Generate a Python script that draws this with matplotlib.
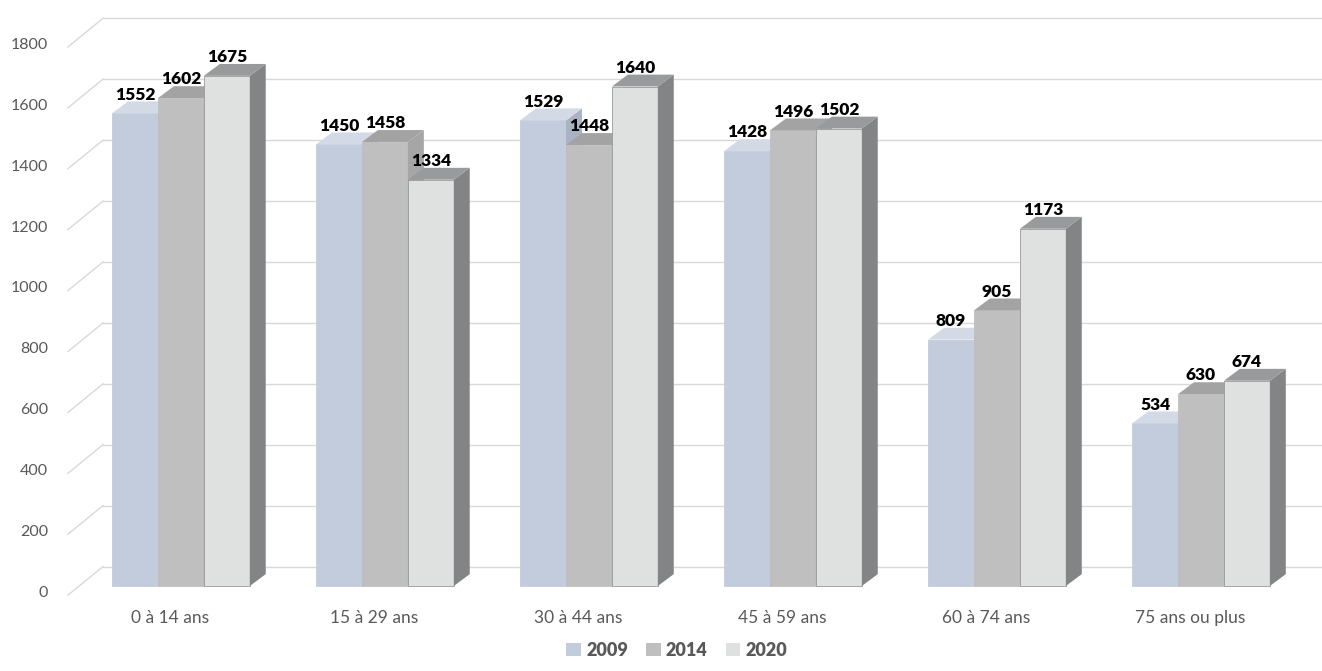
import matplotlib
matplotlib.use("Agg")
from matplotlib import pyplot as plt
from matplotlib.patches import Polygon, Patch

plt.rcParams['font.family'] = ['Lato', 'DejaVu Sans']

categories = ['0 à 14 ans', '15 à 29 ans', '30 à 44 ans', '45 à 59 ans', '60 à 74 ans', '75 ans ou plus']
years = ['2009', '2014', '2020']
v2009 = [1552, 1450, 1529, 1428, 809, 534]
v2014 = [1602, 1458, 1448, 1496, 905, 630]
v2020 = [1675, 1334, 1640, 1502, 1173, 674]
yticks = [0, 200, 400, 600, 800, 1000, 1200, 1400, 1600, 1800]

series = [v2009, v2014, v2020]
# front, side, top colours per series
face_cols = ['#c2ccdd', '#bfbfbf', '#dfe0e0']
side_cols = ['#a9b3c4', '#a6a6a6', '#828486']
top_cols = ['#d3dae6', '#a3a3a3', '#999a9b']

fig = plt.figure(figsize=(13.22, 6.71), dpi=100)
ax = fig.add_axes([0, 0, 1, 1])
ax.set_xlim(-0.887, 5.593)
ax.set_ylim(-279, 1924)
ax.axis('off')

w = 0.225          # bar width (group units)
dx, dy = 0.078, 39  # bar depth

## back wall gridlines + diagonal ticks
for v in yticks:
    ax.plot([-0.382, 5.593], [v + 64, v + 64], color='#d9d9d9', lw=1, zorder=1)
    ax.plot([-0.554, -0.382], [v - 30, v + 64], color='#d9d9d9', lw=1, zorder=1)
    ax.text(-0.652, v - 23, str(v), ha='right', va='center', fontsize=11.5, color='#595959')

## bars
for i in range(len(categories)):
    for j, vals in enumerate(series):
        h = vals[i]
        x0 = i + (j - 1) * w - w / 2
        z = 2 + j * 3
        ax.bar(x0, h, width=w, align='edge', color=face_cols[j],
               edgecolor='#9a9a9a' if j == 2 else face_cols[j], lw=0.6, zorder=z)
        side = [(x0 + w, 0), (x0 + w + dx, dy), (x0 + w + dx, h + dy), (x0 + w, h)]
        top = [(x0, h), (x0 + dx, h + dy), (x0 + w + dx, h + dy), (x0 + w, h)]
        ax.add_patch(Polygon(side, closed=True, facecolor=side_cols[j], edgecolor='none', zorder=z + 1))
        ax.add_patch(Polygon(top, closed=True, facecolor=top_cols[j], edgecolor='none', zorder=z + 1))
        ax.text(x0 + w / 2, h + dy - 4, str(h), ha='center', va='bottom', fontsize=12.5,
                fontweight='heavy', color='black', zorder=20)
    ax.text(i - 0.055, -105, categories[i], ha='center', va='center', fontsize=12.5, color='#595959')

## legend
handles = [Patch(facecolor=face_cols[j], edgecolor='none') for j in range(3)]
fig.legend(handles, years, loc='center', bbox_to_anchor=(0.512, 0.031), ncol=3, frameon=False,
           prop={'weight': 'heavy', 'size': 13}, labelcolor='#595959', handlelength=0.8,
           handleheight=0.8, handletextpad=0.3, columnspacing=1.0)

plt.savefig('out.png', dpi=100)
